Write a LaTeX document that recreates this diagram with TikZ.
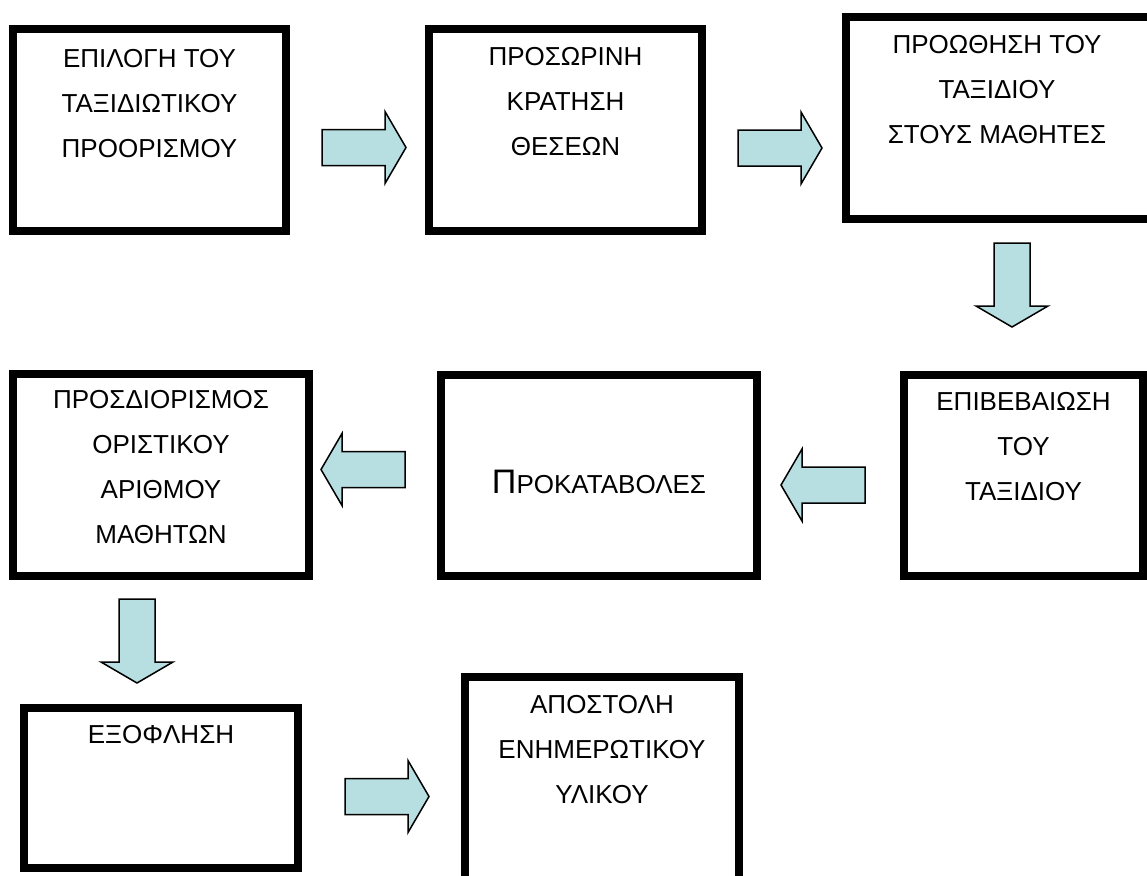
\documentclass[tikz,border=0pt]{standalone}
\usepackage{fontspec}
\setmainfont{Liberation Sans}
\usetikzlibrary{positioning}

\definecolor{arrowblue}{RGB}{183,222,224}

\tikzset{
  stepbox/.style={draw, line width=8pt, outer sep=0pt, inner sep=0pt,
    minimum width=273pt, minimum height=202pt},
  boxtext/.style={inner sep=0pt, align=center,
    font=\fontsize{26}{45}\selectfont},
  blockarrow/.pic={
    \draw[fill=arrowblue, line width=1.5pt, line join=miter]
      (0,-18) -- (63,-18) -- (63,-36) -- (84,0) -- (63,36) -- (63,18) -- (0,18) -- cycle;
  }
}

\begin{document}
\begin{tikzpicture}[x=1pt,y=-1pt]
  \useasboundingbox (0,0) rectangle (1147,875);
  \fill[white] (0,0) rectangle (1147,875);
  \clip (0,0) rectangle (1147,875);

  \coordinate (a1) at (322,147.5);
  \coordinate (a2) at (738,148);
  \coordinate (a3) at (1012,243);
  \coordinate (a4) at (865,485);
  \coordinate (a5) at (405,469.5);
  \coordinate (a6) at (137,599);
  \coordinate (a7) at (345,796.5);

  \node[stepbox] (b1) at (149.5,130) {};
  \node[boxtext, below=20pt of b1.north] (t1) {ΕΠΙΛΟΓΗ ΤΟΥ\\ΤΑΞΙΔΙΩΤΙΚΟΥ\\ΠΡΟΟΡΙΣΜΟΥ};

  \node[stepbox] (b2) at (565.5,130) {};
  \node[boxtext, below=18pt of b2.north] (t2) {ΠΡΟΣΩΡΙΝΗ\\ΚΡΑΤΗΣΗ\\ΘΕΣΕΩΝ};

  \node[stepbox, minimum width=314pt] (b3) at (1003,118) {};
  \node[boxtext, below=18pt of b3.north, xshift=-6pt] (t3) {ΠΡΟΩΘΗΣΗ ΤΟΥ\\ΤΑΞΙΔΙΟΥ\\ΣΤΟΥΣ ΜΑΘΗΤΕΣ};

  \node[stepbox, minimum width=239pt, minimum height=201pt] (b4) at (1023.5,475.5) {};
  \node[boxtext, below=17pt of b4.north] (t4) {ΕΠΙΒΕΒΑΙΩΣΗ\\ΤΟΥ\\ΤΑΞΙΔΙΟΥ};

  \node[stepbox, minimum width=316pt, minimum height=201pt] (b5) at (599,475.5) {};
  \node[boxtext, below=95pt of b5.north] (t5) {{\fontsize{34}{45}\selectfont Π}ΡΟΚΑΤΑΒΟΛΕΣ};

  \node[stepbox, minimum width=296pt] (b6) at (161,475) {};
  \node[boxtext, below=16pt of b6.north] (t6) {ΠΡΟΣΔΙΟΡΙΣΜΟΣ\\ΟΡΙΣΤΙΚΟΥ\\ΑΡΙΘΜΟΥ\\ΜΑΘΗΤΩΝ};

  \node[stepbox, minimum width=274pt, minimum height=160pt] (b7) at (161,788) {};
  \node[boxtext, below=17pt of b7.north] (t7) {ΕΞΟΦΛΗΣΗ};

  \node[stepbox, minimum width=274pt, minimum height=220pt] (b8) at (602,787) {};
  \node[boxtext, below=18pt of b8.north] (t8) {ΑΠΟΣΤΟΛΗ\\ΕΝΗΜΕΡΩΤΙΚΟΥ\\ΥΛΙΚΟΥ};

  \pic at (a1) {blockarrow};
  \pic at (a2) {blockarrow};
  \pic[rotate=-90] at (a3) {blockarrow};
  \pic[rotate=180] at (a4) {blockarrow};
  \pic[rotate=180] at (a5) {blockarrow};
  \pic[rotate=-90] at (a6) {blockarrow};
  \pic at (a7) {blockarrow};
\end{tikzpicture}
\end{document}
